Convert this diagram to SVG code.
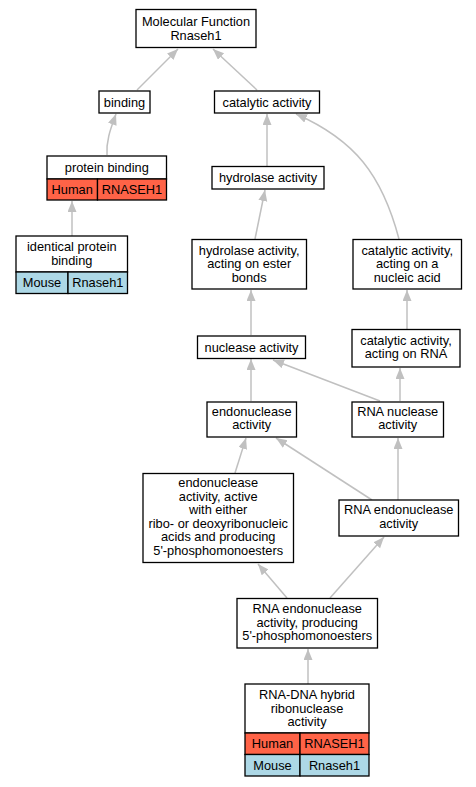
<svg xmlns="http://www.w3.org/2000/svg" width="476" height="787" viewBox="0 0 476 787">
<style>
.box{fill:#fff;stroke:#000;stroke-width:1.3}
.hum{fill:#ff6347;stroke:#000;stroke-width:1.3}
.mou{fill:#add8e6;stroke:#000;stroke-width:1.3}
text{font-family:"Liberation Sans",Arial,sans-serif;font-size:12.8px;fill:#000;text-anchor:middle}
.e{fill:none;stroke:#c0c0c0;stroke-width:1.5;marker-end:url(#ah)}
</style>
<defs>
<marker id="ah" markerUnits="userSpaceOnUse" markerWidth="12" markerHeight="10" refX="11" refY="4.5" orient="auto">
<path d="M0,0 L11,4.5 L0,9 z" fill="#c0c0c0"/>
</marker>
</defs>
<rect width="476" height="787" fill="#fff"/>
<g id="edges">
<path class="e" d="M137,90 L178,49"/>
<path class="e" d="M257,90 L213,49"/>
<path class="e" d="M107,155 C106,140 111,128 116,114"/>
<path class="e" d="M72,236 L72,201"/>
<path class="e" d="M267,166 L267,114"/>
<path class="e" d="M399,239 C382,175 355,140 296,114"/>
<path class="e" d="M255,239 L265,190"/>
<path class="e" d="M251,335 L251,290"/>
<path class="e" d="M407,329 L407,290"/>
<path class="e" d="M251,401 L251,359"/>
<path class="e" d="M380,401 L273,360"/>
<path class="e" d="M400,401 L400,368"/>
<path class="e" d="M235,473 L246,438"/>
<path class="e" d="M372,500 L276,438"/>
<path class="e" d="M398,500 L398,438"/>
<path class="e" d="M287,598 L258,564"/>
<path class="e" d="M330,598 L384,537"/>
<path class="e" d="M308,684 L308,649"/>
</g>
<g id="mf">
<rect class="box" x="136" y="9.5" width="120" height="38"/>
<text x="196" y="26">Molecular Function</text>
<text x="196" y="40">Rnaseh1</text>
</g>
<g id="binding">
<rect class="box" x="99" y="91" width="51" height="22"/>
<text x="124.5" y="106.5">binding</text>
</g>
<g id="catalytic">
<rect class="box" x="214.5" y="91" width="105" height="22"/>
<text x="267" y="106.5">catalytic activity</text>
</g>
<g id="protein-binding">
<rect class="box" x="47" y="156" width="119.5" height="23"/>
<rect class="hum" x="47" y="179" width="50.5" height="21"/>
<rect class="hum" x="97.5" y="179" width="69" height="21"/>
<text x="106.8" y="172">protein binding</text>
<text x="72.2" y="194">Human</text>
<text x="132" y="194">RNASEH1</text>
</g>
<g id="identical-protein-binding">
<rect class="box" x="16" y="236" width="111.5" height="36"/>
<rect class="mou" x="16" y="272" width="52" height="21.5"/>
<rect class="mou" x="68" y="272" width="59.5" height="21.5"/>
<text x="71.8" y="251">identical protein</text>
<text x="71.8" y="264.5">binding</text>
<text x="42" y="287">Mouse</text>
<text x="97.8" y="287">Rnaseh1</text>
</g>
<g id="hydrolase">
<rect class="box" x="212" y="166.5" width="112" height="22.5"/>
<text x="268" y="182">hydrolase activity</text>
</g>
<g id="hydrolase-ester">
<rect class="box" x="192" y="239.5" width="114.5" height="49.5"/>
<text x="249.2" y="254.5">hydrolase activity,</text>
<text x="249.2" y="268">acting on ester</text>
<text x="249.2" y="281.5">bonds</text>
</g>
<g id="catalytic-nucleic">
<rect class="box" x="353" y="239.5" width="108.5" height="49.5"/>
<text x="407.2" y="254.5">catalytic activity,</text>
<text x="407.2" y="268">acting on a</text>
<text x="407.2" y="281.5">nucleic acid</text>
</g>
<g id="nuclease">
<rect class="box" x="197.5" y="336" width="108" height="22.5"/>
<text x="251.5" y="351.5">nuclease activity</text>
</g>
<g id="catalytic-rna">
<rect class="box" x="352" y="329.5" width="108" height="37.5"/>
<text x="406" y="344.5">catalytic activity,</text>
<text x="406" y="358">acting on RNA</text>
</g>
<g id="endonuclease">
<rect class="box" x="207" y="402" width="89.5" height="35"/>
<text x="251.7" y="415.5">endonuclease</text>
<text x="251.7" y="429">activity</text>
</g>
<g id="rna-nuclease">
<rect class="box" x="352" y="402" width="91.5" height="35"/>
<text x="397.7" y="415.5">RNA nuclease</text>
<text x="397.7" y="429">activity</text>
</g>
<g id="endonuclease-either">
<rect class="box" x="143" y="473.5" width="150.5" height="89"/>
<text x="218.2" y="487">endonuclease</text>
<text x="218.2" y="500.5">activity, active</text>
<text x="218.2" y="514">with either</text>
<text x="218.2" y="527.5">ribo- or deoxyribonucleic</text>
<text x="218.2" y="541">acids and producing</text>
<text x="218.2" y="554.5">5'-phosphomonoesters</text>
</g>
<g id="rna-endonuclease">
<rect class="box" x="339" y="500" width="119.5" height="36"/>
<text x="398.7" y="514">RNA endonuclease</text>
<text x="398.7" y="527.5">activity</text>
</g>
<g id="rna-endo-producing">
<rect class="box" x="237" y="598.5" width="140.5" height="49.5"/>
<text x="307.2" y="613">RNA endonuclease</text>
<text x="307.2" y="626.5">activity, producing</text>
<text x="307.2" y="640">5'-phosphomonoesters</text>
</g>
<g id="rna-dna-hybrid">
<rect class="box" x="245" y="684" width="124" height="49"/>
<rect class="hum" x="245" y="733" width="55" height="21.5"/>
<rect class="hum" x="300" y="733" width="69" height="21.5"/>
<rect class="mou" x="245" y="754.5" width="55" height="21.5"/>
<rect class="mou" x="300" y="754.5" width="69" height="21.5"/>
<text x="307" y="699">RNA-DNA hybrid</text>
<text x="307" y="712.5">ribonuclease</text>
<text x="307" y="726">activity</text>
<text x="272.5" y="748">Human</text>
<text x="334.5" y="748">RNASEH1</text>
<text x="272.5" y="769.5">Mouse</text>
<text x="334.5" y="769.5">Rnaseh1</text>
</g>
</svg>
